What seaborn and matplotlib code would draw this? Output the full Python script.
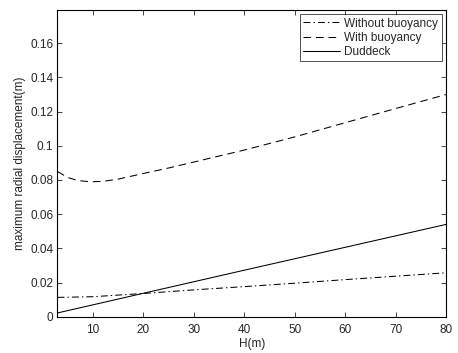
import numpy as np
import pandas as pd
import matplotlib
matplotlib.use("Agg")
import matplotlib.pyplot as plt
import seaborn as sns

# values
h_wo = [3, 10, 20, 30, 40, 50, 60, 70, 80]
disp_wo = [0.0113, 0.0117, 0.0136, 0.0157, 0.0176, 0.0196, 0.0217, 0.0237, 0.0257]

h_w = [3, 5, 7, 9, 10, 12, 15, 20, 25, 30, 40, 50, 60, 70, 80]
disp_w = [0.0850, 0.0815, 0.0797, 0.0791, 0.0790, 0.0792, 0.0805, 0.0838, 0.0870,
          0.0905, 0.0975, 0.1052, 0.1135, 0.1218, 0.1300]

h_dud = [3, 20, 40, 60, 80]
disp_dud = [0.0022, 0.0137, 0.0272, 0.0406, 0.0540]

labels = ["Without buoyancy", "With buoyancy", "Duddeck"]
x_ticks = [10, 20, 30, 40, 50, 60, 70, 80]
y_ticks = [0, 0.02, 0.04, 0.06, 0.08, 0.1, 0.12, 0.14, 0.16]
y_tick_labels = ["0", "0.02", "0.04", "0.06", "0.08", "0.1", "0.12", "0.14", "0.16"]

sns.set_style("ticks")
plt.rcParams["font.family"] = ["Liberation Sans", "DejaVu Sans"]
plt.rcParams["font.size"] = 8.5
plt.rcParams["lines.scale_dashes"] = False

fig = plt.figure(figsize=(4.58, 3.53), dpi=100)
ax = fig.add_axes([0.1255, 0.1028, 0.8483, 0.869])

df_wo = pd.DataFrame({"H": h_wo, "d": disp_wo})
df_w = pd.DataFrame({"H": h_w, "d": disp_w})
df_dud = pd.DataFrame({"H": h_dud, "d": disp_dud})

sns.lineplot(data=df_wo, x="H", y="d", ax=ax, color="black", lw=0.75,
             label=labels[0])
sns.lineplot(data=df_w, x="H", y="d", ax=ax, color="black", lw=0.75,
             label=labels[1])
sns.lineplot(data=df_dud, x="H", y="d", ax=ax, color="black", lw=0.75,
             label=labels[2])

dashdot = (5.0, 2.2, 1.0, 2.2)
dashed = (5.5, 3.5)
lines = ax.get_lines()
lines[0].set_dashes(dashdot)
lines[1].set_dashes(dashed)

ax.set_xlim(3, 80)
ax.set_ylim(0, 0.1795)
ax.set_xticks(x_ticks)
ax.set_yticks(y_ticks)
ax.set_yticklabels(y_tick_labels)
ax.tick_params(direction="in", top=True, right=True, length=3.5, width=0.6,
               labelsize=8.5)
ax.tick_params(axis="x", pad=5)
ax.tick_params(axis="y", pad=3)
for s in ax.spines.values():
    s.set_linewidth(0.8)
    s.set_color("black")

ax.set_xlabel("H(m)", fontsize=8.5, labelpad=1.5)
ax.set_ylabel("maximum radial displacement(m)", fontsize=8.5, labelpad=3)

leg = ax.legend(loc="upper right", fontsize=8.5, handlelength=3.1,
                borderaxespad=0.35, frameon=True, fancybox=False,
                labelspacing=0.18, handletextpad=0.4, borderpad=0.3)
leg.get_frame().set_edgecolor("black")
leg.get_frame().set_linewidth(0.6)
leg_lines = leg.get_lines()
leg_lines[0].set_dashes(dashdot)
leg_lines[1].set_dashes(dashed)

fig.savefig("out.png", dpi=100)
